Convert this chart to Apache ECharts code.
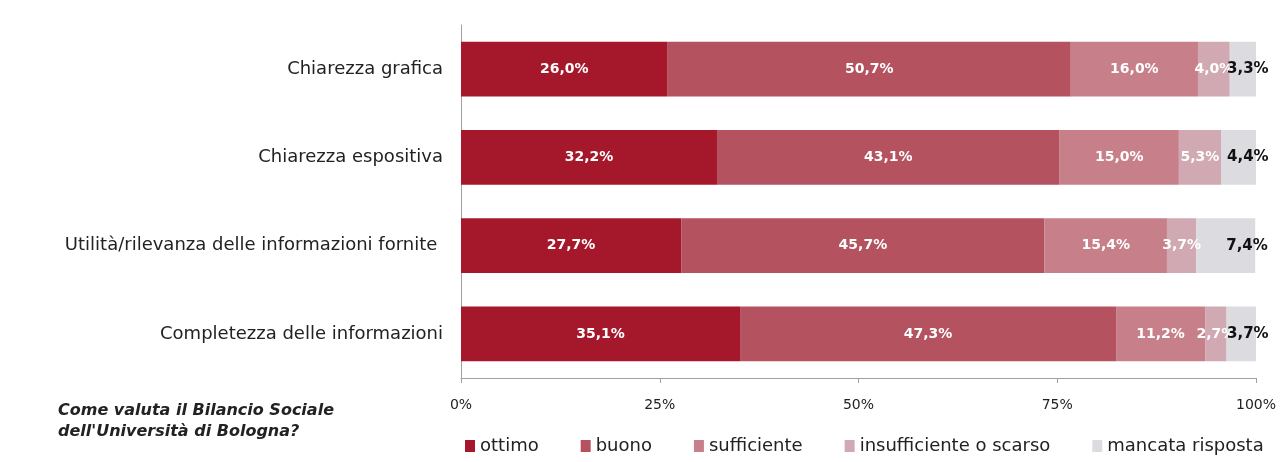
<!DOCTYPE html>
<html>
<head>
<meta charset="utf-8">
<script src="https://cdn.jsdelivr.net/npm/echarts@6/dist/echarts.min.js"></script>
<style>
  html, body { margin: 0; padding: 0; background: #ffffff; }
  #chart { width: 1288px; height: 462px; }
</style>
</head>
<body>
<div id="chart"></div>
<script>
// Survey items (top to bottom)
const categories = [
  'Chiarezza grafica',
  'Chiarezza espositiva',
  'Utilità/rilevanza delle informazioni fornite ',
  'Completezza delle informazioni'
];
// Percentages per response, same order as categories
const ottimo        = [26.0, 32.2, 27.7, 35.1];
const buono         = [50.7, 43.1, 45.7, 47.3];
const sufficiente   = [16.0, 15.0, 15.4, 11.2];
const insufficiente = [4.0, 5.3, 3.7, 2.7];
const mancata       = [3.3, 4.4, 7.4, 3.7];

const seriesNames = ['ottimo', 'buono', 'sufficiente', 'insufficiente o scarso', 'mancata risposta'];
const seriesData = [ottimo, buono, sufficiente, insufficiente, mancata];
const seriesColors = ['#a5182c', '#b4525f', '#c78089', '#d0a9b2', '#dcdce0'];
const tickLabels = ['0%', '25%', '50%', '75%', '100%'];

const FONT = 'DejaVu Sans';
const fmt = v => v.toFixed(1).replace('.', ',') + '%';

const chart = echarts.init(document.getElementById('chart'), null, { renderer: 'canvas' });

const series = seriesNames.map((name, i) => {
  const last = i === seriesNames.length - 1;
  return {
    name: name,
    type: 'bar',
    stack: 'total',
    barWidth: '62%',
    data: seriesData[i].slice().reverse(),
    itemStyle: { color: seriesColors[i] },
    label: last ? {
      show: true,
      position: 'insideRight',
      distance: 0,
      align: 'left',
      offset: [-29, 0],
      color: '#111111',
      fontFamily: FONT,
      fontWeight: 'bold',
      fontSize: 15,
      formatter: p => fmt(p.value)
    } : {
      show: true,
      position: 'inside',
      color: '#ffffff',
      fontFamily: FONT,
      fontWeight: 'bold',
      fontSize: 14,
      formatter: p => fmt(p.value)
    },
    emphasis: { disabled: true }
  };
});

chart.setOption({
  animation: false,
  backgroundColor: '#ffffff',
  grid: { left: 461, right: 32, top: 25, bottom: 84, containLabel: false },
  xAxis: {
    type: 'value',
    min: 0,
    max: 100,
    interval: 25,
    axisLine: { show: true, lineStyle: { color: '#a0a0a0', width: 1 } },
    axisTick: { show: true, length: 5, lineStyle: { color: '#a0a0a0' } },
    splitLine: { show: false },
    axisLabel: {
      color: '#222222',
      fontFamily: FONT,
      fontSize: 14,
      margin: 20,
      formatter: v => tickLabels[Math.round(v / 25)]
    }
  },
  yAxis: {
    type: 'category',
    data: categories.slice().reverse(),
    axisLine: { show: true, lineStyle: { color: '#a0a0a0', width: 1 } },
    axisTick: { show: false },
    axisLabel: {
      color: '#222222',
      fontFamily: FONT,
      fontSize: 18,
      margin: 18
    }
  },
  legend: {
    bottom: 2,
    left: 460,
    itemWidth: 10,
    itemHeight: 12,
    itemGap: 42,
    icon: 'rect',
    textStyle: { color: '#222222', fontFamily: FONT, fontSize: 18, padding: [0, 0, 0, 0] },
    data: seriesNames
  },
  graphic: [{
    type: 'text',
    left: 58,
    top: 400,
    style: {
      text: "Come valuta il Bilancio Sociale\ndell'Università di Bologna?",
      fontFamily: FONT,
      fontSize: 16,
      fontWeight: 'bold',
      fontStyle: 'italic',
      fill: '#222222',
      lineHeight: 21
    }
  }],
  series: series
});
</script>
</body>
</html>
